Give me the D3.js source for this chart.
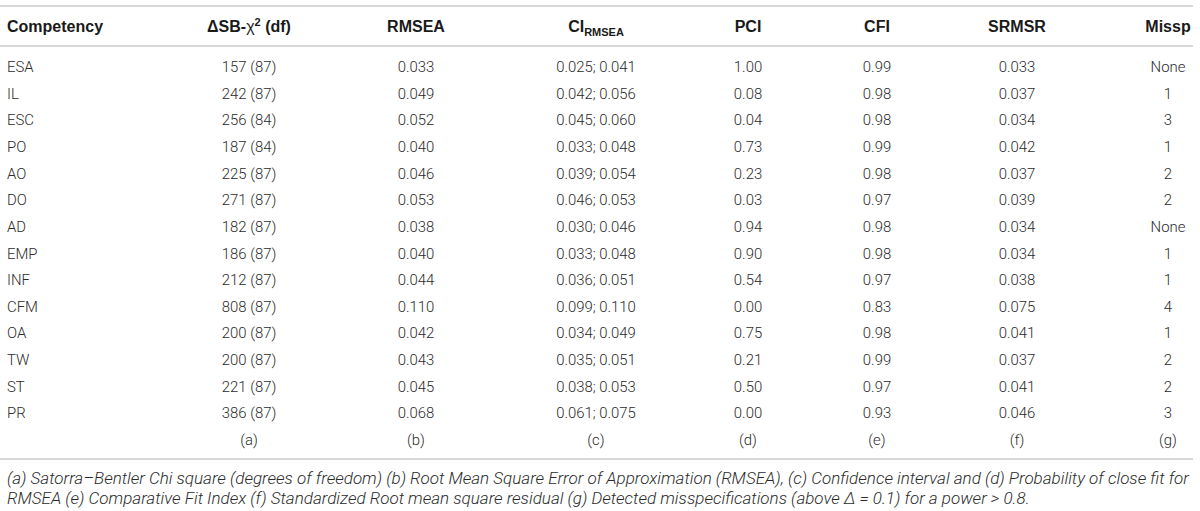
<!DOCTYPE html>
<html>
<head>
<meta charset="utf-8">
<script src="https://cdn.jsdelivr.net/npm/d3@7/dist/d3.min.js"></script>
<style>
  html, body { margin: 0; padding: 0; background: #fff; }
  svg { display: block; }
  .hdr { font-family: "Liberation Sans", Arial, sans-serif; font-weight: bold; font-size: 16px; fill: #1a1a1a; }
  .cell { font-family: Roboto, "Liberation Sans", sans-serif; font-weight: 300; font-size: 14.9px; fill: #2b2b2b; }
  .note { font-family: Roboto, "Liberation Sans", sans-serif; font-weight: 300; font-style: italic; font-size: 14px; fill: #2b2b2b; }
</style>
</head>
<body>
<svg id="chart" width="1200" height="511"></svg>
<script>
// ---- data ----
const competencies = ["ESA","IL","ESC","PO","AO","DO","AD","EMP","INF","CFM","OA","TW","ST","PR"];
const chiSquare   = [157, 242, 256, 187, 225, 271, 182, 186, 212, 808, 200, 200, 221, 386];
const degreesFree = [87, 87, 84, 84, 87, 87, 87, 87, 87, 87, 87, 87, 87, 87];
const rmsea       = [0.033, 0.049, 0.052, 0.040, 0.046, 0.053, 0.038, 0.040, 0.044, 0.110, 0.042, 0.043, 0.045, 0.068];
const ciLow       = [0.025, 0.042, 0.045, 0.033, 0.039, 0.046, 0.030, 0.033, 0.036, 0.099, 0.034, 0.035, 0.038, 0.061];
const ciHigh      = [0.041, 0.056, 0.060, 0.048, 0.054, 0.053, 0.046, 0.048, 0.051, 0.110, 0.049, 0.051, 0.053, 0.075];
const pci         = [1.00, 0.08, 0.04, 0.73, 0.23, 0.03, 0.94, 0.90, 0.54, 0.00, 0.75, 0.21, 0.50, 0.00];
const cfi         = [0.99, 0.98, 0.98, 0.99, 0.98, 0.97, 0.98, 0.98, 0.97, 0.83, 0.98, 0.99, 0.97, 0.93];
const srmsr       = [0.033, 0.037, 0.034, 0.042, 0.037, 0.039, 0.034, 0.034, 0.038, 0.075, 0.041, 0.037, 0.041, 0.046];
const missp       = ["None", "1", "3", "1", "2", "2", "None", "1", "1", "4", "1", "2", "2", "3"];
const columnKeys  = ["comp", "chi", "rmsea", "ci", "pci", "cfi", "srmsr", "missp"];
const columnNotes = ["", "(a)", "(b)", "(c)", "(d)", "(e)", "(f)", "(g)"];
const footnotes = [
  "(a) Satorra\u2013Bentler Chi square (degrees of freedom) (b) Root Mean Square Error of Approximation (RMSEA), (c) Confidence interval and (d) Probability of close fit for",
  "RMSEA (e) Comparative Fit Index (f) Standardized Root mean square residual (g) Detected misspecifications (above \u0394 = 0.1) for a power > 0.8."
];

// ---- build table rows ----
const f3 = d3.format(".3f"), f2 = d3.format(".2f");
const rows = competencies.map((c, i) => ({
  comp: c,
  chi: `${chiSquare[i]} (${degreesFree[i]})`,
  rmsea: f3(rmsea[i]),
  ci: `${f3(ciLow[i])}; ${f3(ciHigh[i])}`,
  pci: f2(pci[i]),
  cfi: f2(cfi[i]),
  srmsr: f3(srmsr[i]),
  missp: missp[i]
}));

const svg = d3.select("#chart");

// scales
const x = d3.scaleOrdinal().domain(columnKeys).range([7, 249, 416, 596, 748, 877, 1017, 1168]);
const anchor = k => k === "comp" ? "start" : "middle";
const y = d3.scaleLinear().domain([0, competencies.length - 1]).range([67, 413]);
const rowStep = y(1) - y(0);

// rules
const rules = [6, 46, 459];
svg.selectAll("line.rule").data(rules).join("line")
  .attr("class", "rule")
  .attr("x1", 0).attr("x2", 1193)
  .attr("y1", d => d).attr("y2", d => d)
  .attr("stroke", "#d8d8d8").attr("stroke-width", 2);

// header
const hy = 26 + 5.5;
const hdr = svg.append("g").attr("class", "hdr");
hdr.append("text").attr("x", x("comp")).attr("y", hy).attr("text-anchor", "start").text("Competency");
{
  const t = hdr.append("text").attr("x", x("chi")).attr("y", hy).attr("text-anchor", "middle");
  t.append("tspan").text("\u0394SB-");
  t.append("tspan").attr("font-weight", "normal").text("\u03c7");
  t.append("tspan").attr("font-size", "11px").attr("dy", -6).text("2");
  t.append("tspan").attr("dy", 6).text(" (df)");
}
hdr.append("text").attr("x", x("rmsea")).attr("y", hy).attr("text-anchor", "middle").text("RMSEA");
{
  const t = hdr.append("text").attr("x", x("ci")).attr("y", hy).attr("text-anchor", "middle");
  t.append("tspan").text("CI");
  t.append("tspan").attr("font-size", "11px").attr("dy", 4).text("RMSEA");
}
hdr.append("text").attr("x", x("pci")).attr("y", hy).attr("text-anchor", "middle").text("PCI");
hdr.append("text").attr("x", x("cfi")).attr("y", hy).attr("text-anchor", "middle").text("CFI");
hdr.append("text").attr("x", x("srmsr")).attr("y", hy).attr("text-anchor", "middle").text("SRMSR");
hdr.append("text").attr("x", x("missp")).attr("y", hy).attr("text-anchor", "middle").text("Missp");

// body cells
const body = svg.append("g").attr("class", "cell");
const rowG = body.selectAll("g.row").data(rows).join("g")
  .attr("class", "row")
  .attr("transform", (d, i) => `translate(0,${y(i) + 5.2})`);
rowG.selectAll("text").data(d => columnKeys.map(k => ({ k, v: d[k] }))).join("text")
  .attr("x", d => x(d.k))
  .attr("text-anchor", d => anchor(d.k))
  .text(d => d.v);

// column letters row
body.append("g")
  .attr("transform", `translate(0,${y(competencies.length - 1) + rowStep + 5.2})`)
  .selectAll("text").data(columnKeys.map((k, i) => ({ k, v: columnNotes[i] })).filter(d => d.v))
  .join("text")
  .attr("x", d => x(d.k)).attr("text-anchor", "middle").text(d => d.v);

// footnotes
const notes = svg.append("g").attr("class", "note");
const nt = notes.selectAll("text").data(footnotes).join("text")
  .attr("x", 7).attr("y", (d, i) => 479 + 5 + i * 20).text(d => d);
const w0 = nt.node().getComputedTextLength();
const target = 1189 - 7;
const fs = 14 * target / w0;
nt.style("font-size", fs + "px");
</script>
</body>
</html>
